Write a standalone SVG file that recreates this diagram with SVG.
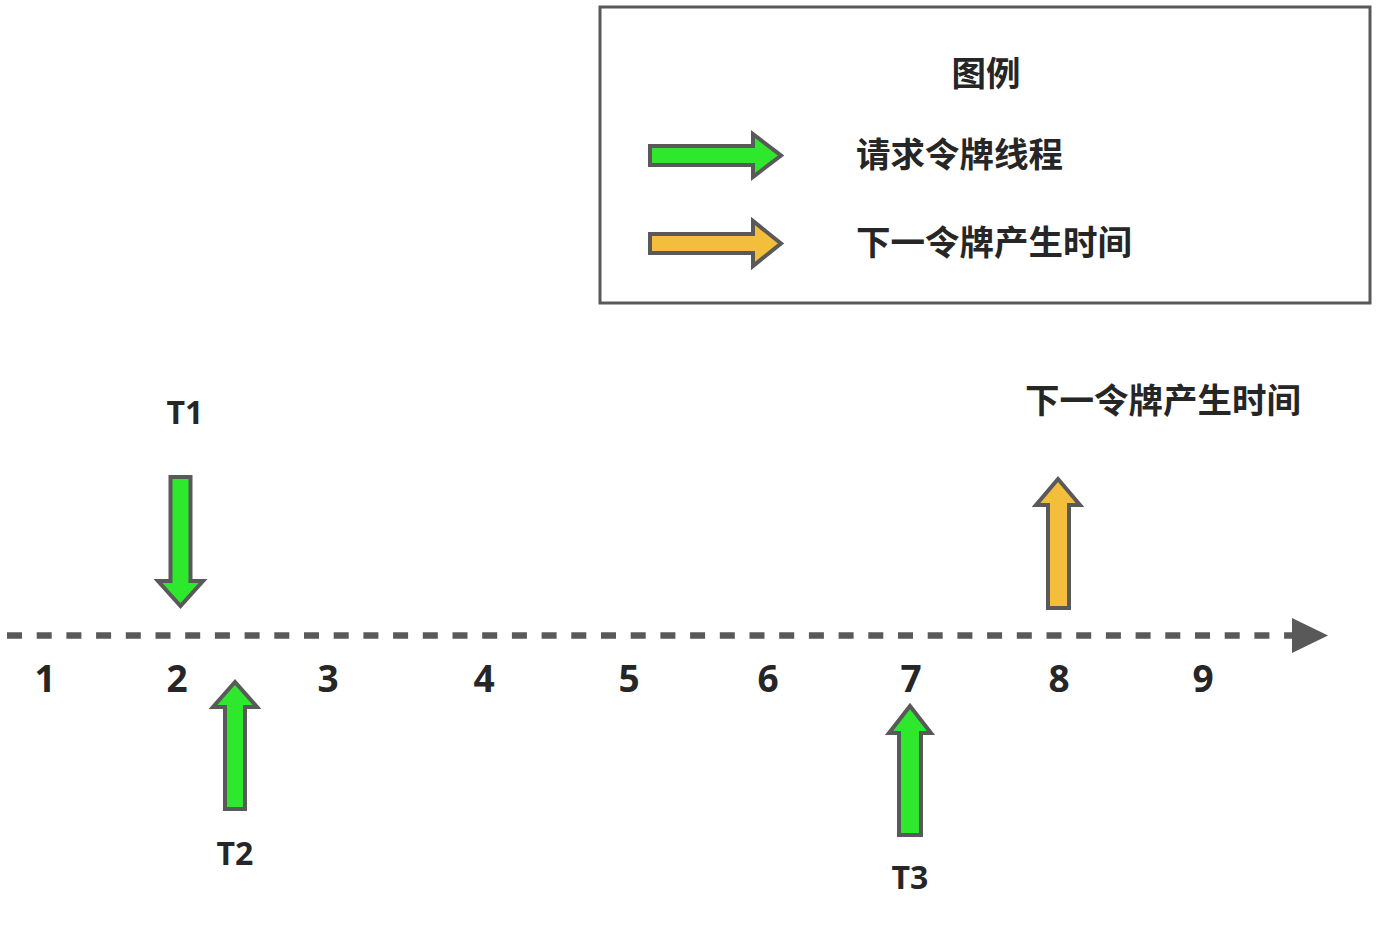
<svg xmlns="http://www.w3.org/2000/svg" width="1380" height="925" viewBox="0 0 1380 925">
<style>
text{font-family:"Open Sans","Noto Sans CJK SC",sans-serif;font-weight:bold;fill:#262626}
.cjk{font-size:34.5px}
.num{font-size:37px;text-anchor:middle}
.lbl{font-size:32px;text-anchor:middle}
.ga{fill:#2ee82e;stroke:#595959;stroke-width:4}
.oa{fill:#f3be3c;stroke:#595959;stroke-width:4}
</style>
<rect width="1380" height="925" fill="#fff"/>
<g id="legend">
<rect x="600" y="7" width="770" height="296" fill="none" stroke="#595959" stroke-width="3"/>
<text x="986" y="86" class="cjk" text-anchor="middle">图例</text>
<path class="ga" d="M650,146 H753 V134 L781,155.5 L753,177 V165 H650 Z"/>
<text x="856" y="167" class="cjk">请求令牌线程</text>
<path class="oa" d="M650,234 H753 V221 L781,243.5 L753,266 V253 H650 Z"/>
<text x="856" y="255" class="cjk">下一令牌产生时间</text>
</g>
<g id="connectors">
<line x1="7" y1="635.5" x2="1292" y2="635.5" stroke="#595959" stroke-width="6.5" stroke-dasharray="15 14.7"/>
<polygon points="1292,618 1328,635.5 1292,653" fill="#595959"/>
</g>
<g id="ticks">
<text x="45" y="692" class="num">1</text>
<text x="177" y="692" class="num">2</text>
<text x="328" y="692" class="num">3</text>
<text x="484" y="692" class="num">4</text>
<text x="629" y="692" class="num">5</text>
<text x="768" y="692" class="num">6</text>
<text x="911" y="692" class="num">7</text>
<text x="1059" y="692" class="num">8</text>
<text x="1203" y="692" class="num">9</text>
</g>
<g id="t1">
<text x="185" y="424" class="lbl">T1</text>
<path class="ga" d="M170.5,477 H190.5 V581 H203 L180.5,606 L158,581 H170.5 Z"/>
</g>
<g id="t2">
<path class="ga" d="M225,809 V707 H213 L235,682 L257,707 H245 V809 Z"/>
<text x="235" y="865" class="lbl">T2</text>
</g>
<g id="t3">
<path class="ga" d="M899,835 V733 H889 L910,706 L931,733 H921 V835 Z"/>
<text x="910" y="889" class="lbl">T3</text>
</g>
<g id="next">
<path class="oa" d="M1048,608 V505 H1036 L1058,479 L1080,505 H1069 V608 Z"/>
<text x="1025" y="413" class="cjk">下一令牌产生时间</text>
</g>
</svg>
